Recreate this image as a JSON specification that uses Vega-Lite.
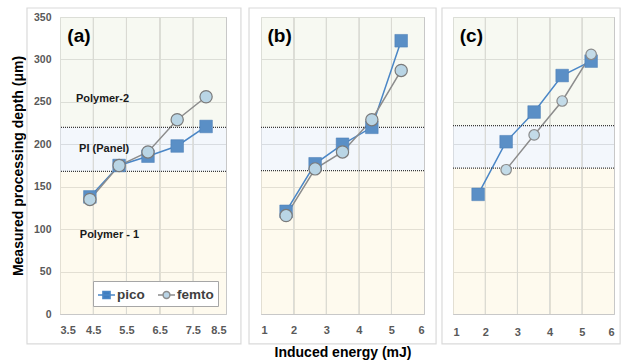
{
  "$schema": "https://vega.github.io/schema/vega-lite/v6.json",
  "padding": {"left": 10, "top": 6, "right": 0, "bottom": 0},
  "config": {
    "font": "Liberation Sans",
    "view": {"stroke": "#d4d4d4", "strokeWidth": 1},
    "axis": {
      "ticks": false,
      "domain": false,
      "grid": true,
      "labelOverlap": false,
      "gridColor": "#c8c8c8",
      "gridWidth": 1,
      "labelFont": "Liberation Sans",
      "labelFontWeight": "bold",
      "labelFontSize": 11,
      "labelColor": "#595959",
      "titleFont": "Liberation Sans",
      "titleFontWeight": "bold",
      "titleFontSize": 14,
      "titleColor": "#000000"
    }
  },
  "datasets": {
    "pts": [
      {"panel": "a", "series": "pico", "energy": 4.4, "depth": 138},
      {"panel": "a", "series": "pico", "energy": 5.28, "depth": 175},
      {"panel": "a", "series": "pico", "energy": 6.15, "depth": 186},
      {"panel": "a", "series": "pico", "energy": 7.03, "depth": 198},
      {"panel": "a", "series": "pico", "energy": 7.9, "depth": 221},
      {"panel": "a", "series": "femto", "energy": 4.4, "depth": 135},
      {"panel": "a", "series": "femto", "energy": 5.28, "depth": 175},
      {"panel": "a", "series": "femto", "energy": 6.15, "depth": 191},
      {"panel": "a", "series": "femto", "energy": 7.03, "depth": 229},
      {"panel": "a", "series": "femto", "energy": 7.9, "depth": 256},
      {"panel": "b", "series": "pico", "energy": 1.77, "depth": 121},
      {"panel": "b", "series": "pico", "energy": 2.66, "depth": 177},
      {"panel": "b", "series": "pico", "energy": 3.5, "depth": 200},
      {"panel": "b", "series": "pico", "energy": 4.4, "depth": 220},
      {"panel": "b", "series": "pico", "energy": 5.3, "depth": 322},
      {"panel": "b", "series": "femto", "energy": 1.77, "depth": 116},
      {"panel": "b", "series": "femto", "energy": 2.66, "depth": 171},
      {"panel": "b", "series": "femto", "energy": 3.5, "depth": 191},
      {"panel": "b", "series": "femto", "energy": 4.4, "depth": 229},
      {"panel": "b", "series": "femto", "energy": 5.3, "depth": 287},
      {"panel": "c", "series": "pico", "energy": 1.78, "depth": 141},
      {"panel": "c", "series": "pico", "energy": 2.65, "depth": 203},
      {"panel": "c", "series": "pico", "energy": 3.52, "depth": 238},
      {"panel": "c", "series": "pico", "energy": 4.39, "depth": 281},
      {"panel": "c", "series": "pico", "energy": 5.29, "depth": 298},
      {"panel": "c", "series": "femto", "energy": 2.65, "depth": 170},
      {"panel": "c", "series": "femto", "energy": 3.52, "depth": 211},
      {"panel": "c", "series": "femto", "energy": 4.39, "depth": 251},
      {"panel": "c", "series": "femto", "energy": 5.29, "depth": 306}
    ],
    "bands": [
      {"panel": "a", "band": "Polymer-1", "lo": 0, "hi": 168},
      {"panel": "a", "band": "PI", "lo": 168, "hi": 220},
      {"panel": "a", "band": "Polymer-2", "lo": 220, "hi": 350},
      {"panel": "b", "band": "Polymer-1", "lo": 0, "hi": 169},
      {"panel": "b", "band": "PI", "lo": 169, "hi": 220},
      {"panel": "b", "band": "Polymer-2", "lo": 220, "hi": 350},
      {"panel": "c", "band": "Polymer-1", "lo": 0, "hi": 172},
      {"panel": "c", "band": "PI", "lo": 172, "hi": 222},
      {"panel": "c", "band": "Polymer-2", "lo": 222, "hi": 350}
    ],
    "limits": [
      {"panel": "a", "depth": 168}, {"panel": "a", "depth": 220},
      {"panel": "b", "depth": 169}, {"panel": "b", "depth": 220},
      {"panel": "c", "depth": 172}, {"panel": "c", "depth": 222}
    ],
    "xticks": [
      {"panel": "a", "energy": 4.5}, {"panel": "a", "energy": 5.5}, {"panel": "a", "energy": 6.5}, {"panel": "a", "energy": 7.5},
      {"panel": "b", "energy": 2}, {"panel": "b", "energy": 3}, {"panel": "b", "energy": 4}, {"panel": "b", "energy": 5},
      {"panel": "c", "energy": 2}, {"panel": "c", "energy": 3}, {"panel": "c", "energy": 4}, {"panel": "c", "energy": 5}
    ],
    "labels": [
      {"panel": "a", "kind": "panel", "text": "(a)", "energy": 4.07, "depth": 328},
      {"panel": "b", "kind": "panel", "text": "(b)", "energy": 1.57, "depth": 328},
      {"panel": "c", "kind": "panel", "text": "(c)", "energy": 1.57, "depth": 328},
      {"panel": "a", "kind": "band", "text": "Polymer-2", "energy": 4.78, "depth": 253},
      {"panel": "a", "kind": "band", "text": "PI (Panel)", "energy": 4.83, "depth": 194},
      {"panel": "a", "kind": "band", "text": "Polymer - 1", "energy": 4.99, "depth": 93}
    ]
  },
  "bounds": "flush",
  "spacing": 35,
  "resolve": {"scale": {"color": "independent"}, "legend": {"color": "independent"}},
  "hconcat": [
    {
      "width": 166,
      "height": 297,
      "layer": [
        {
          "data": {"name": "bands"},
          "transform": [{"filter": "datum.panel === 'a'"}],
          "mark": {"type": "rect", "opacity": 0.5},
          "encoding": {
            "y": {"field": "lo", "type": "quantitative", "scale": {"domain": [0, 350], "nice": false, "zero": false},
                  "axis": {"values": [0, 50, 100, 150, 200, 250, 300, 350], "title": "Measured processing depth (μm)", "labelFontSize": 10.5, "labelPadding": 9, "titlePadding": 8}},
            "y2": {"field": "hi"},
            "fill": {"field": "band", "type": "nominal", "scale": {"domain": ["Polymer-1", "PI", "Polymer-2"], "range": ["#fdf5dd", "#e7eff9", "#eff3e5"]}, "legend": null}
          }
        },
        {
          "data": {"name": "xticks"},
          "transform": [{"filter": "datum.panel === 'a'"}],
          "mark": {"type": "rule", "color": "#d9d9d3", "strokeWidth": 1},
          "encoding": {
            "x": {"field": "energy", "type": "quantitative", "scale": {"domain": [3.5, 8.5], "nice": false, "zero": false},
                  "axis": {"values": [3.5, 4.5, 5.5, 6.5, 7.5, 8.5], "format": ".1f", "title": null, "labelPadding": 10, "grid": true, "labelOverlap": false}}
          }
        },
        {
          "data": {"name": "pts"},
          "transform": [{"filter": "datum.panel === 'a'"}],
          "mark": {"type": "line", "strokeWidth": 1.5},
          "encoding": {
            "x": {"field": "energy", "type": "quantitative", "scale": {"domain": [3.5, 8.5], "nice": false, "zero": false},
                  "axis": {"values": [3.5, 4.5, 5.5, 6.5, 7.5, 8.5], "format": ".1f", "title": null, "labelPadding": 10, "grid": true, "labelOverlap": false}},
            "y": {"field": "depth", "type": "quantitative"},
            "color": {"field": "series", "type": "nominal",
                      "scale": {"domain": ["pico", "femto"], "range": ["#4a86c6", "#8c8c8c"]},
                      "legend": {
                        "orient": "bottom-right", "offset": 8, "direction": "horizontal", "title": null,
                        "fillColor": "#ffffff", "strokeColor": "#a6a6a6", "padding": 4,
                        "labelFont": "Liberation Sans", "labelFontWeight": "bold", "labelFontSize": 13.5, "labelColor": "#404040",
                        "symbolSize": 289, "columnPadding": 10, "labelOffset": 1, "symbolStrokeWidth": 1.5,
                        "encode": {"symbols": {"update": {
                          "shape": {"signal": "datum.value === 'pico' ? 'M-1,0H1M-0.42,-0.42H0.42V0.42H-0.42Z' : 'M-1,0H-0.4M0.4,0H1M0.4,0A0.4,0.4 0 1,1 -0.4,0A0.4,0.4 0 1,1 0.4,0Z'"},
                          "fill": {"signal": "datum.value === 'pico' ? '#3d7cc0' : '#b9d4e6'"},
                          "stroke": {"signal": "datum.value === 'pico' ? '#3d7cc0' : '#7f7f7f'"},
                          "opacity": {"value": 1}
                        }}}
                      }}
          }
        },
        {
          "data": {"name": "limits"},
          "transform": [{"filter": "datum.panel === 'a'"}],
          "mark": {"type": "rule", "color": "#3a3a3a", "strokeWidth": 1.2, "strokeDash": [1, 1]},
          "encoding": {"y": {"field": "depth", "type": "quantitative"}}
        },
        {
          "data": {"name": "labels"},
          "transform": [{"filter": "datum.panel === 'a' && datum.kind === 'band'"}],
          "mark": {"type": "text", "font": "Liberation Sans", "fontWeight": "bold", "fontSize": 11, "color": "#1a1a1a"},
          "encoding": {
            "x": {"field": "energy", "type": "quantitative", "axis": {"values": [3.5, 4.5, 5.5, 6.5, 7.5, 8.5], "format": ".1f", "title": null, "labelPadding": 10, "grid": true, "labelOverlap": false}},
            "y": {"field": "depth", "type": "quantitative"},
            "text": {"field": "text"}
          }
        },
        {
          "data": {"name": "labels"},
          "transform": [{"filter": "datum.panel === 'a' && datum.kind === 'panel'"}],
          "mark": {"type": "text", "font": "Liberation Sans", "fontWeight": "bold", "fontSize": 19, "color": "#000000"},
          "encoding": {
            "x": {"field": "energy", "type": "quantitative", "axis": {"values": [3.5, 4.5, 5.5, 6.5, 7.5, 8.5], "format": ".1f", "title": null, "labelPadding": 10, "grid": true, "labelOverlap": false}},
            "y": {"field": "depth", "type": "quantitative"},
            "text": {"field": "text"}
          }
        },
        {
          "data": {"name": "pts"},
          "transform": [{"filter": "datum.panel === 'a' && datum.series === 'pico'"}],
          "mark": {"type": "point", "shape": "square", "filled": true, "size": 160, "fill": "#5a8fc6", "stroke": "#4a7db5", "strokeWidth": 0.5, "opacity": 1},
          "encoding": {"x": {"field": "energy", "type": "quantitative", "axis": {"values": [3.5, 4.5, 5.5, 6.5, 7.5, 8.5], "format": ".1f", "title": null, "labelPadding": 10, "grid": true, "labelOverlap": false}}, "y": {"field": "depth", "type": "quantitative"}}
        },
        {
          "data": {"name": "pts"},
          "transform": [{"filter": "datum.panel === 'a' && datum.series === 'femto'"}],
          "mark": {"type": "point", "shape": "circle", "filled": true, "size": 150, "fill": "#b9d5e5", "stroke": "#7a7a7a", "strokeWidth": 1.2, "opacity": 1},
          "encoding": {"x": {"field": "energy", "type": "quantitative", "axis": {"values": [3.5, 4.5, 5.5, 6.5, 7.5, 8.5], "format": ".1f", "title": null, "labelPadding": 10, "grid": true, "labelOverlap": false}}, "y": {"field": "depth", "type": "quantitative"}}
        },
        {
          "data": {"values": [{}]},
          "mark": {"type": "rect", "fill": "transparent", "stroke": "#dadada", "strokeWidth": 1.2},
          "encoding": {
            "x": {"datum": 2.506, "type": "quantitative", "scale": {"domain": [3.5, 8.5], "nice": false, "zero": false}, "axis": {"values": [3.5, 4.5, 5.5, 6.5, 7.5, 8.5], "format": ".1f", "title": null, "labelPadding": 10, "grid": true, "labelOverlap": false}},
            "x2": {"datum": 8.95},
            "y": {"datum": 360.6, "type": "quantitative", "scale": {"domain": [0, 350], "nice": false, "zero": false}, "axis": {"values": [0, 50, 100, 150, 200, 250, 300, 350], "title": "Measured processing depth (μm)", "labelFontSize": 10.5, "labelPadding": 9, "titlePadding": 8}},
            "y2": {"datum": -35.3}
          }
        }
      ]
    },
    {
      "bounds": "flush",
      "spacing": 29,
      "resolve": {"scale": {"color": "independent"}, "legend": {"color": "independent"}},
      "hconcat": [
        {
          "width": 163,
          "height": 297,
          "layer": [
            {
              "data": {"name": "bands"},
              "transform": [{"filter": "datum.panel === 'b'"}],
              "mark": {"type": "rect", "opacity": 0.5},
              "encoding": {
                "y": {"field": "lo", "type": "quantitative", "scale": {"domain": [0, 350], "nice": false, "zero": false},
                      "axis": {"values": [0, 50, 100, 150, 200, 250, 300, 350], "labels": false, "title": null}},
                "y2": {"field": "hi"},
                "fill": {"field": "band", "type": "nominal", "scale": {"domain": ["Polymer-1", "PI", "Polymer-2"], "range": ["#fdf5dd", "#e7eff9", "#eff3e5"]}, "legend": null}
              }
            },
            {
              "data": {"name": "xticks"},
              "transform": [{"filter": "datum.panel === 'b'"}],
              "mark": {"type": "rule", "color": "#d9d9d3", "strokeWidth": 1},
              "encoding": {
                "x": {"field": "energy", "type": "quantitative", "scale": {"domain": [1, 6], "nice": false, "zero": false},
                      "axis": {"values": [1, 2, 3, 4, 5, 6], "title": "Induced energy (mJ)", "labelPadding": 10, "titlePadding": 10, "grid": true, "labelOverlap": false}}
              }
            },
            {
              "data": {"name": "pts"},
              "transform": [{"filter": "datum.panel === 'b'"}],
              "mark": {"type": "line", "strokeWidth": 1.5},
              "encoding": {
                "x": {"field": "energy", "type": "quantitative", "scale": {"domain": [1, 6], "nice": false, "zero": false},
                      "axis": {"values": [1, 2, 3, 4, 5, 6], "title": "Induced energy (mJ)", "labelPadding": 10, "titlePadding": 10, "grid": true, "labelOverlap": false}},
                "y": {"field": "depth", "type": "quantitative"},
                "color": {"field": "series", "type": "nominal", "scale": {"domain": ["pico", "femto"], "range": ["#4a86c6", "#8c8c8c"]}, "legend": null}
              }
            },
            {
              "data": {"name": "limits"},
              "transform": [{"filter": "datum.panel === 'b'"}],
              "mark": {"type": "rule", "color": "#3a3a3a", "strokeWidth": 1.2, "strokeDash": [1, 1]},
              "encoding": {"y": {"field": "depth", "type": "quantitative"}}
            },
            {
              "data": {"name": "labels"},
              "transform": [{"filter": "datum.panel === 'b' && datum.kind === 'panel'"}],
              "mark": {"type": "text", "font": "Liberation Sans", "fontWeight": "bold", "fontSize": 19, "color": "#000000"},
              "encoding": {
                "x": {"field": "energy", "type": "quantitative", "axis": {"values": [1, 2, 3, 4, 5, 6], "title": "Induced energy (mJ)", "labelPadding": 10, "titlePadding": 10, "grid": true, "labelOverlap": false}},
                "y": {"field": "depth", "type": "quantitative"},
                "text": {"field": "text"}
              }
            },
            {
              "data": {"name": "pts"},
              "transform": [{"filter": "datum.panel === 'b' && datum.series === 'pico'"}],
              "mark": {"type": "point", "shape": "square", "filled": true, "size": 160, "fill": "#5a8fc6", "stroke": "#4a7db5", "strokeWidth": 0.5, "opacity": 1},
              "encoding": {"x": {"field": "energy", "type": "quantitative", "axis": {"values": [1, 2, 3, 4, 5, 6], "title": "Induced energy (mJ)", "labelPadding": 10, "titlePadding": 10, "grid": true, "labelOverlap": false}}, "y": {"field": "depth", "type": "quantitative"}}
            },
            {
              "data": {"name": "pts"},
              "transform": [{"filter": "datum.panel === 'b' && datum.series === 'femto'"}],
              "mark": {"type": "point", "shape": "circle", "filled": true, "size": 150, "fill": "#b9d5e5", "stroke": "#7a7a7a", "strokeWidth": 1.2, "opacity": 1},
              "encoding": {"x": {"field": "energy", "type": "quantitative", "axis": {"values": [1, 2, 3, 4, 5, 6], "title": "Induced energy (mJ)", "labelPadding": 10, "titlePadding": 10, "grid": true, "labelOverlap": false}}, "y": {"field": "depth", "type": "quantitative"}}
            },
            {
              "data": {"values": [{}]},
              "mark": {"type": "rect", "fill": "transparent", "stroke": "#dadada", "strokeWidth": 1.2},
              "encoding": {
                "x": {"datum": 0.632, "type": "quantitative", "scale": {"domain": [1, 6], "nice": false, "zero": false}, "axis": {"values": [1, 2, 3, 4, 5, 6], "title": "Induced energy (mJ)", "labelPadding": 10, "titlePadding": 10, "grid": true, "labelOverlap": false}},
                "x2": {"datum": 6.37},
                "y": {"datum": 360.6, "type": "quantitative", "scale": {"domain": [0, 350], "nice": false, "zero": false}, "axis": {"values": [0, 50, 100, 150, 200, 250, 300, 350], "labels": false, "title": null}},
                "y2": {"datum": -35.3}
              }
            }
          ]
        },
        {
          "width": 161,
          "height": 297,
          "layer": [
            {
              "data": {"name": "bands"},
              "transform": [{"filter": "datum.panel === 'c'"}],
              "mark": {"type": "rect", "opacity": 0.5},
              "encoding": {
                "y": {"field": "lo", "type": "quantitative", "scale": {"domain": [0, 350], "nice": false, "zero": false},
                      "axis": {"values": [0, 50, 100, 150, 200, 250, 300, 350], "labels": false, "title": null}},
                "y2": {"field": "hi"},
                "fill": {"field": "band", "type": "nominal", "scale": {"domain": ["Polymer-1", "PI", "Polymer-2"], "range": ["#fdf5dd", "#e7eff9", "#eff3e5"]}, "legend": null}
              }
            },
            {
              "data": {"name": "xticks"},
              "transform": [{"filter": "datum.panel === 'c'"}],
              "mark": {"type": "rule", "color": "#d9d9d3", "strokeWidth": 1},
              "encoding": {
                "x": {"field": "energy", "type": "quantitative", "scale": {"domain": [1, 6], "nice": false, "zero": false},
                      "axis": {"values": [1, 2, 3, 4, 5, 6], "title": null, "labelPadding": 12, "grid": true, "labelOverlap": false}}
              }
            },
            {
              "data": {"name": "pts"},
              "transform": [{"filter": "datum.panel === 'c'"}],
              "mark": {"type": "line", "strokeWidth": 1.5},
              "encoding": {
                "x": {"field": "energy", "type": "quantitative", "scale": {"domain": [1, 6], "nice": false, "zero": false},
                      "axis": {"values": [1, 2, 3, 4, 5, 6], "title": null, "labelPadding": 12, "grid": true, "labelOverlap": false}},
                "y": {"field": "depth", "type": "quantitative"},
                "color": {"field": "series", "type": "nominal", "scale": {"domain": ["pico", "femto"], "range": ["#4a86c6", "#8c8c8c"]}, "legend": null}
              }
            },
            {
              "data": {"name": "limits"},
              "transform": [{"filter": "datum.panel === 'c'"}],
              "mark": {"type": "rule", "color": "#3a3a3a", "strokeWidth": 1.2, "strokeDash": [1, 1]},
              "encoding": {"y": {"field": "depth", "type": "quantitative"}}
            },
            {
              "data": {"name": "labels"},
              "transform": [{"filter": "datum.panel === 'c' && datum.kind === 'panel'"}],
              "mark": {"type": "text", "font": "Liberation Sans", "fontWeight": "bold", "fontSize": 19, "color": "#000000"},
              "encoding": {
                "x": {"field": "energy", "type": "quantitative", "axis": {"values": [1, 2, 3, 4, 5, 6], "title": null, "labelPadding": 12, "grid": true, "labelOverlap": false}},
                "y": {"field": "depth", "type": "quantitative"},
                "text": {"field": "text"}
              }
            },
            {
              "data": {"name": "pts"},
              "transform": [{"filter": "datum.panel === 'c' && datum.series === 'pico'"}],
              "mark": {"type": "point", "shape": "square", "filled": true, "size": 160, "fill": "#5a8fc6", "stroke": "#4a7db5", "strokeWidth": 0.5, "opacity": 1},
              "encoding": {"x": {"field": "energy", "type": "quantitative", "axis": {"values": [1, 2, 3, 4, 5, 6], "title": null, "labelPadding": 12, "grid": true, "labelOverlap": false}}, "y": {"field": "depth", "type": "quantitative"}}
            },
            {
              "data": {"name": "pts"},
              "transform": [{"filter": "datum.panel === 'c' && datum.series === 'femto'"}],
              "mark": {"type": "point", "shape": "circle", "filled": true, "size": 110, "fill": "#c3dbe8", "stroke": "#8a8a8a", "strokeWidth": 1.2, "opacity": 1},
              "encoding": {"x": {"field": "energy", "type": "quantitative", "axis": {"values": [1, 2, 3, 4, 5, 6], "title": null, "labelPadding": 12, "grid": true, "labelOverlap": false}}, "y": {"field": "depth", "type": "quantitative"}}
            },
            {
              "data": {"values": [{}]},
              "mark": {"type": "rect", "fill": "transparent", "stroke": "#dadada", "strokeWidth": 1.2},
              "encoding": {
                "x": {"datum": 0.658, "type": "quantitative", "scale": {"domain": [1, 6], "nice": false, "zero": false}, "axis": {"values": [1, 2, 3, 4, 5, 6], "title": null, "labelPadding": 12, "grid": true, "labelOverlap": false}},
                "x2": {"datum": 6.19},
                "y": {"datum": 360.6, "type": "quantitative", "scale": {"domain": [0, 350], "nice": false, "zero": false}, "axis": {"values": [0, 50, 100, 150, 200, 250, 300, 350], "labels": false, "title": null}},
                "y2": {"datum": -35.3}
              }
            }
          ]
        }
      ]
    }
  ]
}
